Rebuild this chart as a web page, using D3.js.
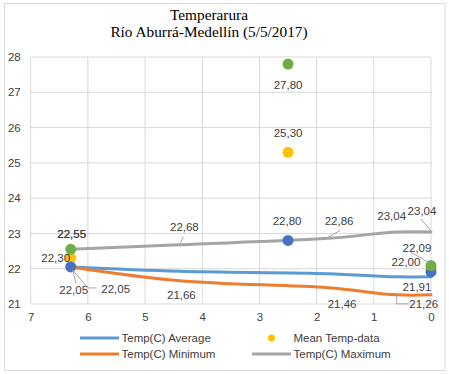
<!DOCTYPE html>
<html>
<head>
<meta charset="utf-8">
<script src="https://cdn.jsdelivr.net/npm/d3@7"></script>
<style>
  html, body { margin: 0; padding: 0; background: #fff; }
  svg text { font-family: "Liberation Sans", Arial, sans-serif; }
</style>
</head>
<body>
<svg id="chart" width="449" height="374"></svg>
<script>
/****************************/
/*          Data            */
/****************************/
const titleLines = ["Temperarura", "Río Aburrá-Medellín (5/5/2017)"];

// smoothed line series
const lineX   = [6.3, 4.4, 1.8, 0.6, 0];
const avgLine = [22.05, 21.93, 21.86, 21.77, 21.77];
const minLine = [22.05, 21.66, 21.46, 21.26, 21.26];
const maxLine = [22.55, 22.68, 22.86, 23.04, 23.04];

// measured points
const dataX    = [6.3, 2.5, 0];
const avgData  = [22.05, 22.80, 21.91];
const meanData = [22.30, 25.30, 22.00];
const maxData  = [22.55, 27.80, 22.09];

const xTicks = [7, 6, 5, 4, 3, 2, 1, 0];
const yTicks = [21, 22, 23, 24, 25, 26, 27, 28];

const legendItems = ["Temp(C) Average", "Mean Temp-data", "Temp(C) Minimum", "Temp(C) Maximum"];

/****************************/
/*         Layout           */
/****************************/
const svg = d3.select("#chart");

const xScale = d3.scaleLinear().domain([7, 0]).range([30.7, 431]);
const yScale = d3.scaleLinear().domain([21, 28]).range([304, 57]);

const colors = {
  avgLine: "#5B9BD5",
  minLine: "#ED7D31",
  maxLine: "#A5A5A5",
  avgData: "#4472C4",
  meanData: "#FFC000",
  maxData: "#70AD47"
};

const fmt = v => d3.format(".2f")(v).replace(".", ",");

// chart border
svg.append("rect")
  .attr("x", 4.5).attr("y", 3.5)
  .attr("width", 440.5).attr("height", 367)
  .attr("fill", "#fff")
  .attr("stroke", "#D9D9D9");

// title
svg.append("text")
  .attr("x", 209)
  .attr("text-anchor", "middle")
  .style("font-family", "'Liberation Serif', 'Times New Roman', serif")
  .style("font-size", "15.3px")
  .attr("fill", "#000")
  .selectAll("tspan")
  .data(titleLines)
  .join("tspan")
    .attr("x", 209)
    .attr("y", (d, i) => 20 + i * 17)
    .text(d => d);

/****************************/
/*        Gridlines         */
/****************************/
const grid = svg.append("g").attr("class", "grid");

grid.selectAll(".gx")
  .data(xTicks)
  .join("line")
    .attr("x1", d => xScale(d)).attr("x2", d => xScale(d))
    .attr("y1", yScale(28)).attr("y2", yScale(21))
    .attr("stroke", "#D9D9D9");

grid.selectAll(".gy")
  .data(yTicks)
  .join("line")
    .attr("x1", xScale(7)).attr("x2", xScale(0))
    .attr("y1", d => yScale(d)).attr("y2", d => yScale(d))
    .attr("stroke", "#D9D9D9");

// axes (labels only)
const xAxis = svg.append("g")
  .attr("transform", `translate(0, ${yScale(21)})`)
  .call(d3.axisBottom(xScale).tickValues(xTicks).tickFormat(d3.format("d")).tickSize(0).tickPadding(9));

const yAxis = svg.append("g")
  .attr("transform", `translate(${xScale(7)}, 0)`)
  .call(d3.axisLeft(yScale).tickValues(yTicks).tickFormat(d3.format("d")).tickSize(0).tickPadding(10));

[xAxis, yAxis].forEach(ax => {
  ax.select(".domain").remove();
  ax.selectAll("text")
    .attr("fill", "#404040")
    .style("font-size", "11.5px")
    .style("font-family", "'Liberation Sans', Arial, sans-serif");
});

/****************************/
/*          Lines           */
/****************************/
const line = d3.line()
  .x(d => xScale(d.x))
  .y(d => yScale(d.y))
  .curve(d3.curveCatmullRom.alpha(0.5));

const lineSeries = [
  { key: "avgLine", values: avgLine },
  { key: "minLine", values: minLine },
  { key: "maxLine", values: maxLine }
];

svg.append("g")
  .selectAll("path")
  .data(lineSeries)
  .join("path")
    .attr("d", d => line(d.values.map((v, i) => ({ x: lineX[i], y: v }))))
    .attr("fill", "none")
    .attr("stroke", d => colors[d.key])
    .attr("stroke-width", 3)
    .attr("stroke-linecap", "round");

/****************************/
/*          Points          */
/****************************/
const pointSeries = [
  { key: "meanData", values: meanData },
  { key: "avgData", values: avgData },
  { key: "maxData", values: maxData }
];

svg.append("g")
  .selectAll("g")
  .data(pointSeries)
  .join("g")
    .attr("fill", d => colors[d.key])
  .selectAll("circle")
  .data(d => d.values.map((v, i) => ({ x: dataX[i], y: v })))
  .join("circle")
    .attr("cx", d => xScale(d.x))
    .attr("cy", d => yScale(d.y))
    .attr("r", 5.5);

/****************************/
/*       Data labels        */
/****************************/
const seriesValues = { avgLine, minLine, maxLine, avgData, meanData, maxData };
const seriesX = { avgLine: lineX, minLine: lineX, maxLine: lineX, avgData: dataX, meanData: dataX, maxData: dataX };

// offsets from the point; leader points are also relative to the point
const labels = [
  { s: "maxLine", i: 0, dx: 1, dy: -15 },
  { s: "maxData", i: 0, dx: 1, dy: -15 },
  { s: "meanData", i: 0, dx: -15, dy: 0 },
  { s: "avgData", i: 0, dx: 3, dy: 23, leader: [[5, 16], [2, 3]] },
  { s: "minLine", i: 0, dx: 45, dy: 22, leader: [[26, 21], [17, 21], [2, 3]] },
  { s: "maxLine", i: 1, dx: 5, dy: -18, leader: [[4, -8], [1, -2]] },
  { s: "minLine", i: 1, dx: 2, dy: 14 },
  { s: "avgData", i: 1, dx: -1, dy: -19 },
  { s: "maxData", i: 1, dx: 0, dy: 21 },
  { s: "meanData", i: 1, dx: 0, dy: -19 },
  { s: "maxLine", i: 2, dx: 11, dy: -17, leader: [[12, -8], [0, -1]] },
  { s: "minLine", i: 2, dx: 14, dy: 16 },
  { s: "maxLine", i: 3, dx: -5, dy: -16 },
  { s: "maxLine", i: 4, dx: -9, dy: -21, leader: [[-10, -13], [0, -1]] },
  { s: "maxData", i: 2, dx: -14, dy: -18, leader: [[-21, -14], [-2, -3]] },
  { s: "meanData", i: 2, dx: -25, dy: -7 },
  { s: "avgData", i: 2, dx: -14, dy: 15 },
  { s: "minLine", i: 3, dx: 27, dy: 9, leader: [[12, 9], [0, 9], [0, 1]] }
];

const labelData = labels.map(l => {
  const v = seriesValues[l.s][l.i];
  return { ...l, v, px: xScale(seriesX[l.s][l.i]), py: yScale(v) };
});

svg.append("g")
  .selectAll("polyline")
  .data(labelData.filter(d => d.leader))
  .join("polyline")
    .attr("points", d => d.leader.map(([a, b]) => `${d.px + a},${d.py + b}`).join(" "))
    .attr("fill", "none")
    .attr("stroke", "#A6A6A6")
    .attr("stroke-width", 1);

svg.append("g")
  .selectAll("text")
  .data(labelData)
  .join("text")
    .attr("x", d => d.px + d.dx)
    .attr("y", d => d.py + d.dy)
    .attr("text-anchor", "middle")
    .attr("dominant-baseline", "central")
    .attr("fill", "#404040")
    .style("font-size", "11.5px")
    .text(d => fmt(d.v));

/****************************/
/*          Legend          */
/****************************/
const legend = svg.append("g").attr("class", "legend");

const legendPos = [
  { x: 80, y: 338, type: "line", color: colors.avgLine },
  { x: 252, y: 338, type: "dot", color: colors.meanData },
  { x: 80, y: 354, type: "line", color: colors.minLine },
  { x: 252, y: 354, type: "line", color: colors.maxLine }
];

const items = legend.selectAll("g")
  .data(legendItems)
  .join("g")
    .attr("transform", (d, i) => `translate(${legendPos[i].x}, ${legendPos[i].y})`);

items.filter((d, i) => legendPos[i].type === "line")
  .append("line")
    .attr("x1", 0).attr("x2", 39)
    .attr("stroke", d => legendPos[legendItems.indexOf(d)].color)
    .attr("stroke-width", 3);

items.filter((d, i) => legendPos[i].type === "dot")
  .append("circle")
    .attr("cx", 19.5)
    .attr("r", 3.5)
    .attr("fill", d => legendPos[legendItems.indexOf(d)].color);

items.append("text")
  .attr("x", 41.5)
  .attr("dominant-baseline", "central")
  .attr("fill", "#404040")
  .style("font-size", "11.5px")
  .text(d => d);
</script>
</body>
</html>
